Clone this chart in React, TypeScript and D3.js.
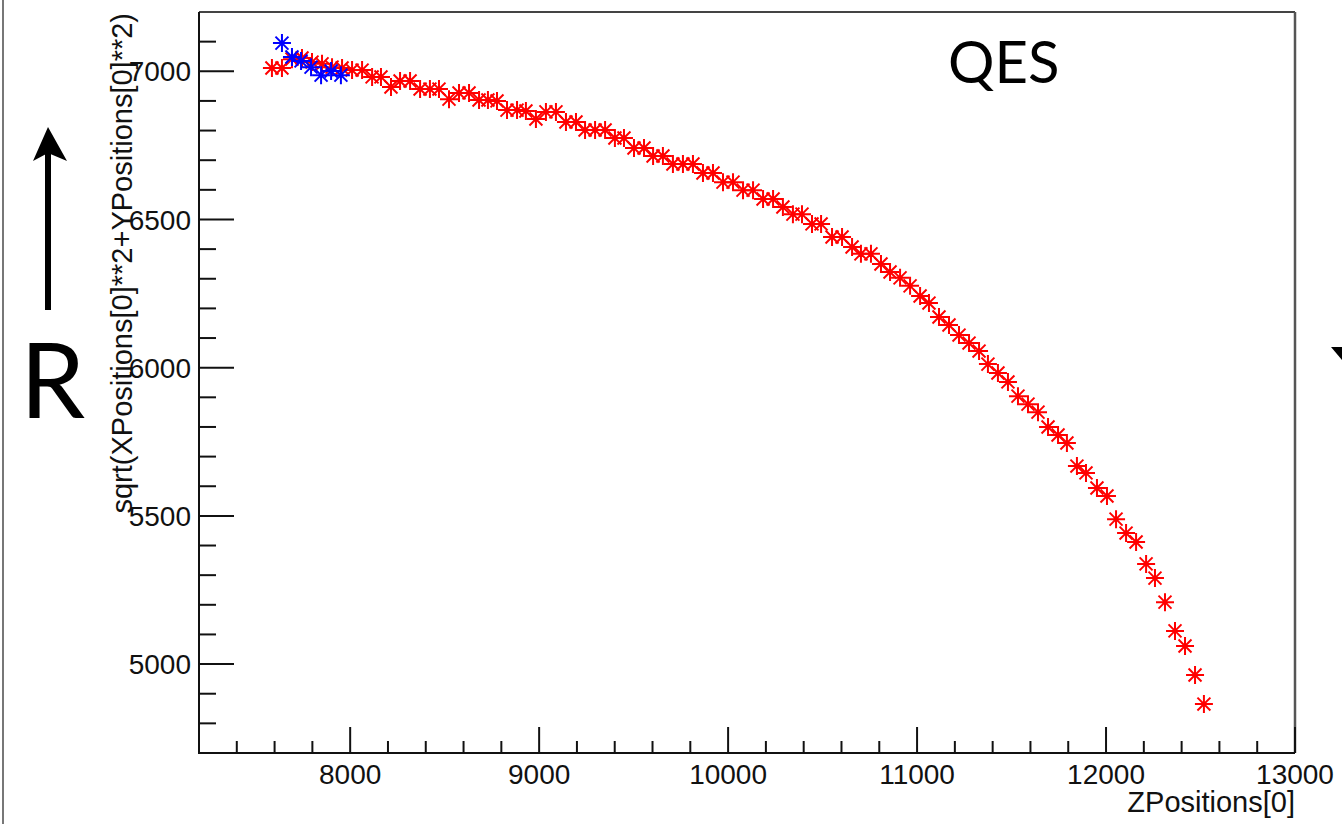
import React from "react";
import * as d3 from "d3";

const redZ = [7586,7639,7692,7745,7798,7851,7904,7957,8010,8063,
  8116,8163,8216,8264,8317,8370,8422,8470,8523,8576,
  8629,8682,8729,8777,8830,8883,8930,8983,9036,9089,
  9142,9195,9243,9296,9349,9401,9449,9502,9555,9603,
  9655,9708,9761,9814,9867,9920,9973,10026,10079,10132,
  10185,10238,10290,10343,10391,10444,10492,10550,10603,10656,
  10703,10756,10809,10857,10910,10963,11016,11063,11116,11169,
  11222,11275,11328,11375,11428,11481,11534,11587,11640,11693,
  11746,11793,11846,11894,11952,12005,12053,12106,12159,12212,
  12259,12312,12365,12418,12471,12518];
const redR = [7011,7011,7041,7045,7031,7025,7014,7011,7004,7004,
  6981,6981,6947,6967,6967,6940,6940,6940,6906,6927,
  6927,6903,6903,6900,6869,6869,6866,6839,6863,6863,
  6829,6829,6802,6802,6802,6775,6775,6741,6741,6714,
  6714,6687,6687,6687,6657,6657,6626,6626,6599,6599,
  6569,6569,6542,6518,6518,6485,6485,6441,6441,6407,
  6384,6384,6350,6323,6303,6276,6242,6218,6171,6144,
  6110,6083,6056,6012,5982,5952,5904,5877,5850,5800,
  5773,5746,5668,5645,5594,5567,5489,5442,5412,5338,
  5290,5209,5112,5061,4963,4865];
const blueZ = [7639,7692,7740,7793,7846,7899,7951];
const blueR = [7095,7048,7035,7014,6987,7001,6987];

const xMajor = [8000, 9000, 10000, 11000, 12000, 13000];
const yMajor = [5000, 5500, 6000, 6500, 7000];
const xTitle = "ZPositions[0]";
const yTitle = "sqrt(XPositions[0]**2+YPositions[0]**2)";

const W = 1342, H = 824;
const L = 199, R = 1295, T = 12, B = 753;

const x = d3.scaleLinear().domain([7200, 13000]).range([L, R]);
const y = d3.scaleLinear().domain([4700, 7200]).range([B, T]);

const xMinor = d3.range(7400, 13000, 200).filter((v) => v % 1000 !== 0);
const yMinor = d3.range(4800, 7200, 100).filter((v) => v % 500 !== 0);

const starType = {
  draw(ctx: any, size: number) {
    const r = Math.sqrt(size);
    const d = r * 0.72;
    ctx.moveTo(-r, 0); ctx.lineTo(r, 0);
    ctx.moveTo(0, -r); ctx.lineTo(0, r);
    ctx.moveTo(-d, -d); ctx.lineTo(d, d);
    ctx.moveTo(-d, d); ctx.lineTo(d, -d);
  },
};
const starPath = d3.symbol().type(starType as any).size(81)() as string;

const font = "'Liberation Sans', Arial, Helvetica, sans-serif";

function Points({ zs, rs, color }: { zs: number[]; rs: number[]; color: string }) {
  return (
    <g>
      {zs.map((z, i) => (
        <g key={i} transform={`translate(${x(z)},${y(rs[i])})`}>
          <path d={starPath} stroke={color} strokeWidth={2} fill="none" />
          <circle r={2.3} fill={color} />
        </g>
      ))}
    </g>
  );
}

export default function App() {
  return (
    <svg width={W} height={H} style={{ position: "absolute", left: 0, top: 0, display: "block", background: "#fff" }}>
      <rect x={0} y={0} width={W} height={H} fill="#fff" />
      <line x1={3} x2={3} y1={0} y2={H} stroke="#777" strokeWidth={2} />

      {/* frame */}
      <line x1={L} x2={R} y1={T} y2={T} stroke="#444" strokeWidth={2} />
      <line x1={R} x2={R} y1={T} y2={B} stroke="#555" strokeWidth={2.5} />

      {/* y axis */}
      <line x1={L} x2={L} y1={T} y2={B + 1} stroke="#111" strokeWidth={2} />
      {yMajor.map((v) => (
        <g key={"ym" + v}>
          <line x1={L} x2={L + 35} y1={y(v)} y2={y(v)} stroke="#111" strokeWidth={2} />
          <text x={L - 8} y={y(v)} dy="0.36em" textAnchor="end" fontFamily={font} fontSize={28} fill="#111">{v}</text>
        </g>
      ))}
      {yMinor.map((v) => (
        <line key={"yn" + v} x1={L} x2={L + 17} y1={y(v)} y2={y(v)} stroke="#111" strokeWidth={2} />
      ))}

      {/* x axis */}
      <line x1={L - 1} x2={R} y1={B} y2={B} stroke="#111" strokeWidth={2} />
      {xMajor.map((v) => (
        <g key={"xm" + v}>
          <line x1={x(v)} x2={x(v)} y1={B} y2={B - 26} stroke="#111" strokeWidth={2} />
          <text x={x(v)} y={784} textAnchor="middle" fontFamily={font} fontSize={28} fill="#111">{v}</text>
        </g>
      ))}
      {xMinor.map((v) => (
        <line key={"xn" + v} x1={x(v)} x2={x(v)} y1={B} y2={B - 12} stroke="#111" strokeWidth={2} />
      ))}

      <text x={R} y={812} textAnchor="end" fontFamily={font} fontSize={29} fill="#111">{xTitle}</text>
      <text transform={`translate(132,13) rotate(-90)`} textAnchor="end" fontFamily={font} fontSize={29} fill="#111">{yTitle}</text>

      <Points zs={redZ} rs={redR} color="#ff0000" />
      <Points zs={blueZ} rs={blueR} color="#0000ff" />

      {/* slide annotations */}
      <text x={948} y={83} fontFamily="Lato, 'Open Sans', sans-serif" fontSize={58} fill="#000">QES</text>
      <text x={20} y={418} fontFamily="Lato, 'Open Sans', sans-serif" fontSize={104} fill="#000">R</text>
      <line x1={48} x2={48} y1={150} y2={310} stroke="#000" strokeWidth={6} />
      <path d="M48,127 L67,161 L48,153 L33,161 Z" fill="#000" />
      <path d="M1331,347 L1342,347 L1342,360 Z" fill="#000" />
    </svg>
  );
}
